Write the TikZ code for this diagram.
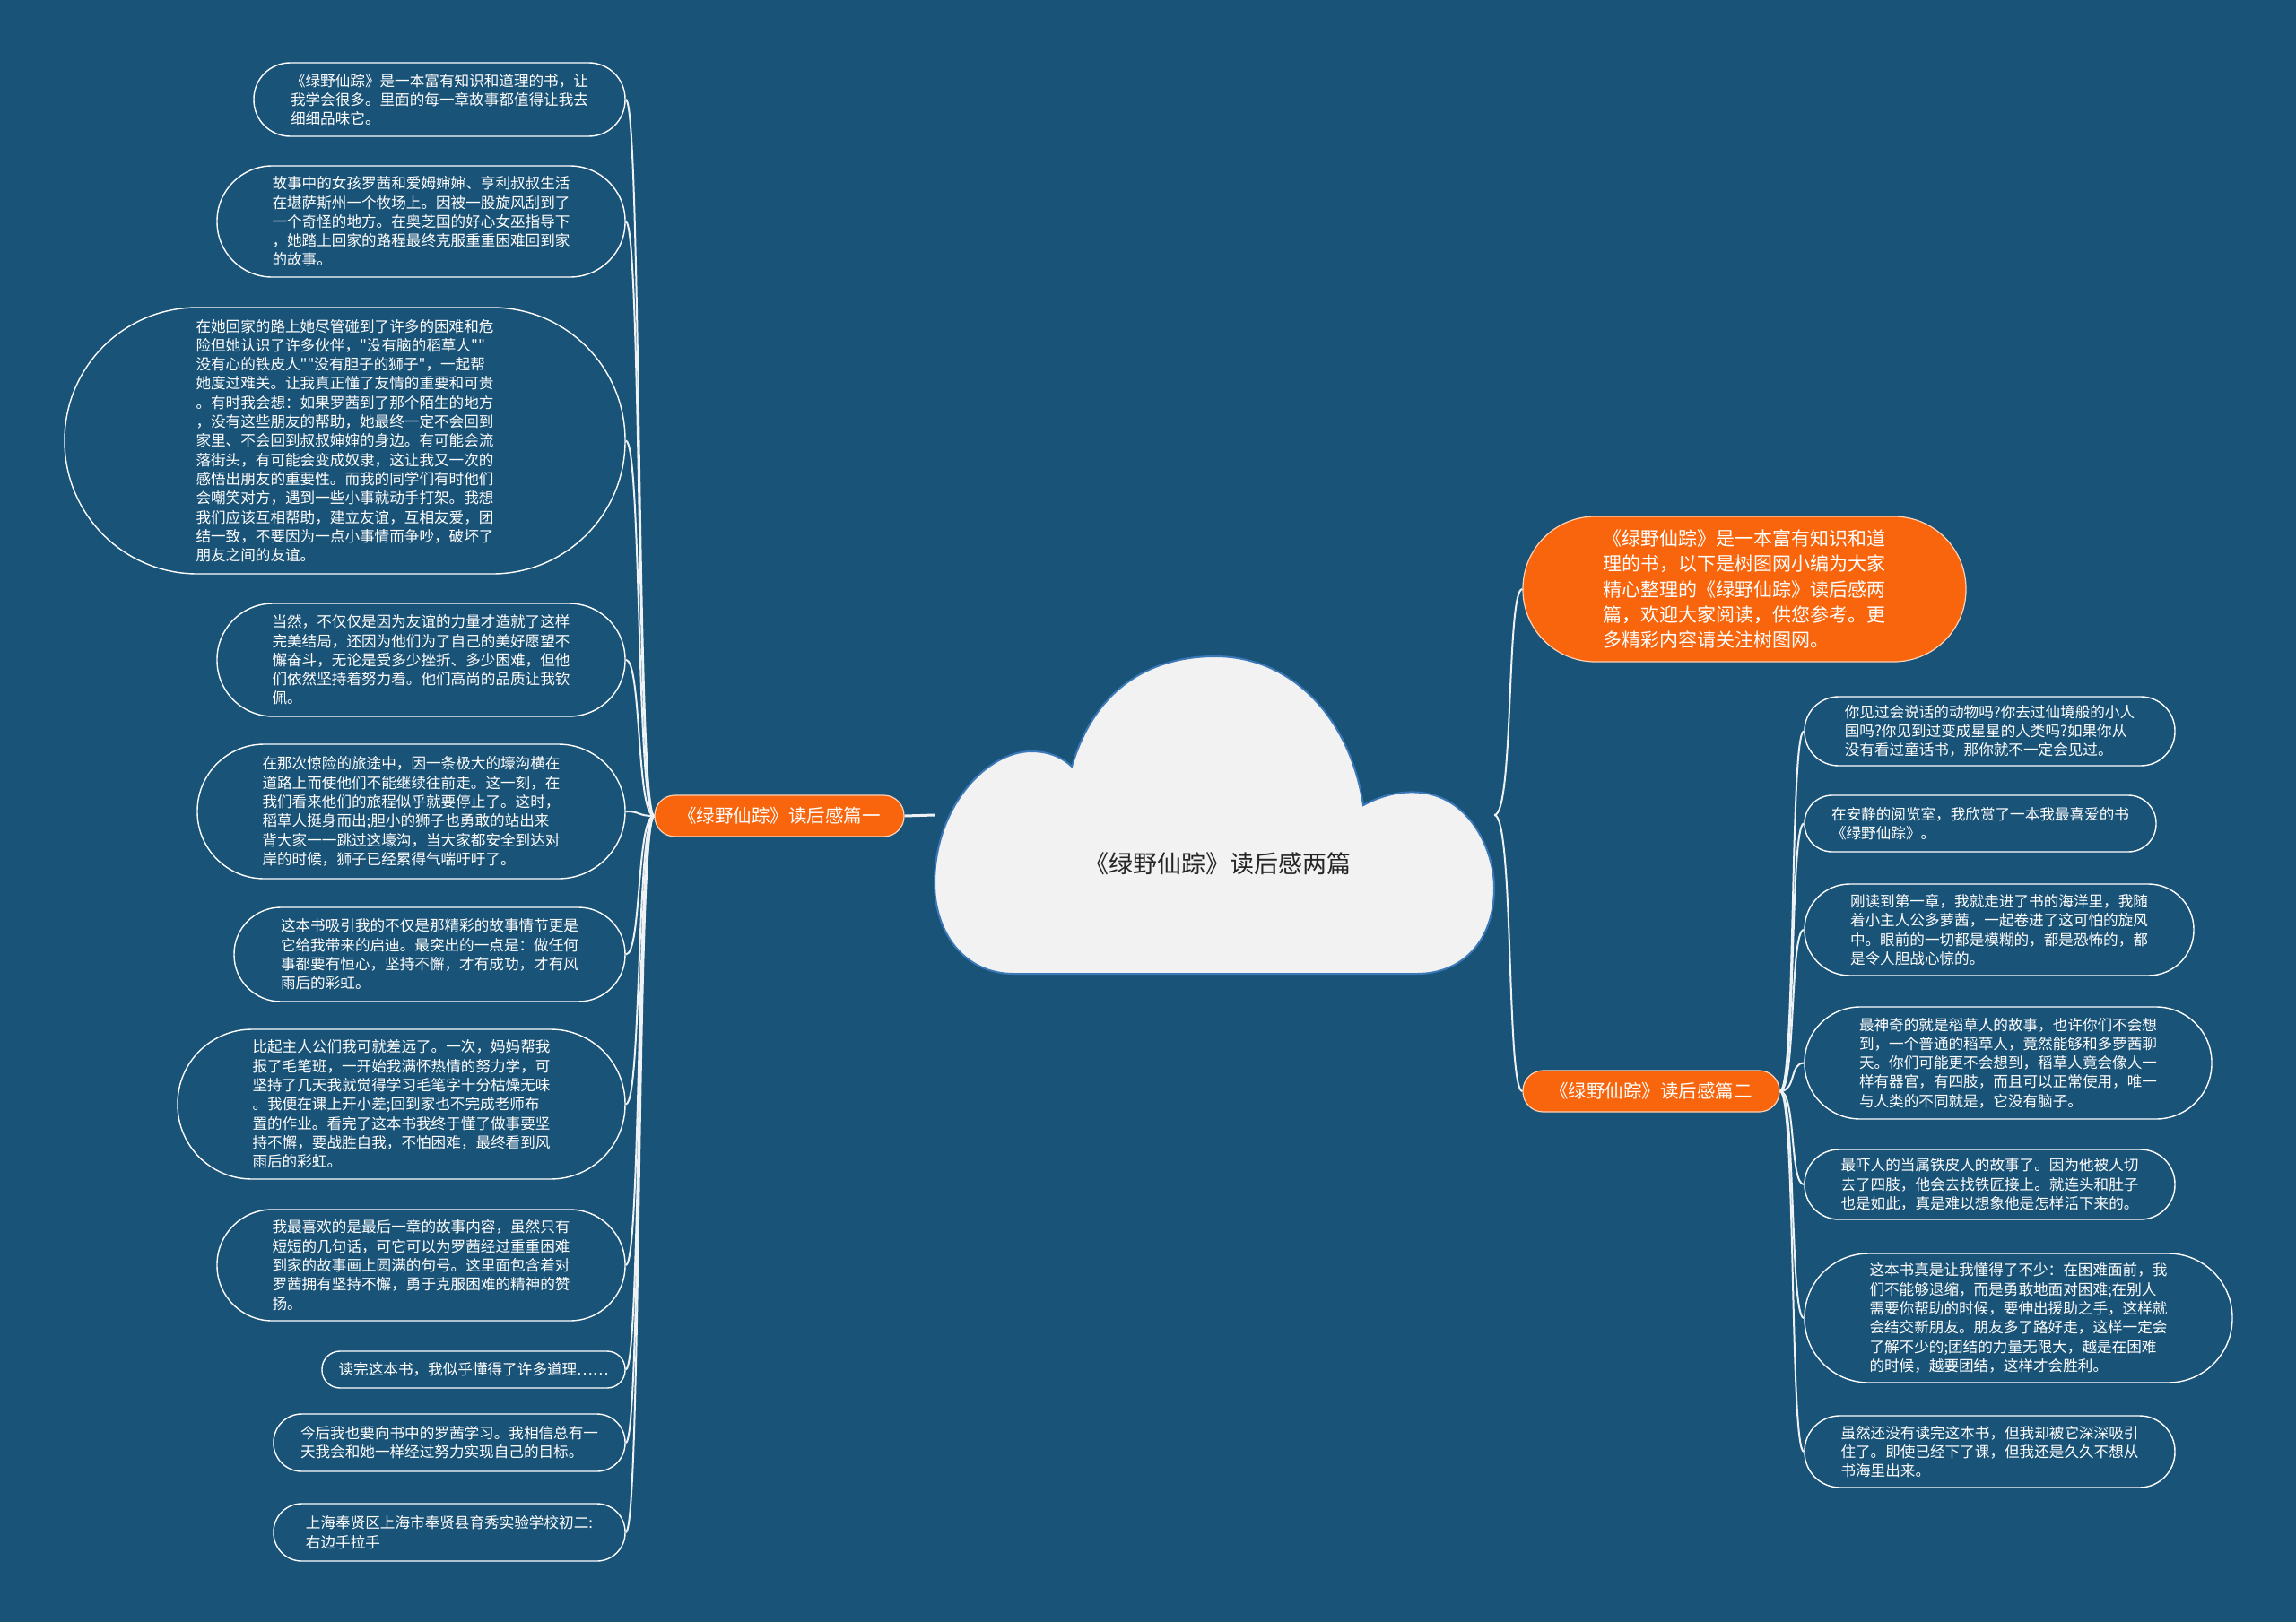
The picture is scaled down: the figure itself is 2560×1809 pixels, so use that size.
\documentclass[tikz,border=0pt]{standalone}
\usepackage{fontspec}
\setmainfont{Noto Sans CJK SC}[Ligatures=TeXOff]
\definecolor{bgblue}{HTML}{1A5378}
\definecolor{orng}{HTML}{F8650C}
\definecolor{cloudfill}{HTML}{F2F2F2}
\definecolor{cloudline}{HTML}{3A78B8}
\definecolor{linecol}{HTML}{EEF2F5}
\tikzset{
  leaf/.style={draw=white, line width=1.4pt, text=white, align=left, inner sep=0pt,
    font=\fontsize{16.6}{21.3}\selectfont},
  orbox/.style={draw=orng!30!white, line width=1.2pt, fill=orng, text=white, align=left, inner sep=0pt},
  conn/.style={draw=linecol, line width=2pt},
  rootbox/.style={inner sep=0pt}
}
\begin{document}
\begin{tikzpicture}[x=1pt,y=-1pt]
\useasboundingbox (0,0) rectangle (2560,1809);
\fill[bgblue] (0,0) rectangle (2560,1809);

% cloud
\draw[fill=cloudfill, draw=cloudline, line width=2pt] (1195,855)
 .. controls (1220,770) and (1280,732) .. (1355,732)
 .. controls (1440,732) and (1505,800) .. (1520,898)
 .. controls (1545,885) and (1565,882) .. (1585,884)
 .. controls (1640,890) and (1666,950) .. (1666,990)
 .. controls (1666,1050) and (1630,1086) .. (1580,1086)
 -- (1130,1086)
 .. controls (1075,1086) and (1042,1040) .. (1042,985)
 .. controls (1042,900) and (1100,838) .. (1150,838)
 .. controls (1170,838) and (1185,845) .. (1195,855) -- cycle;
\node[rootbox, minimum width=624pt, minimum height=354pt] (root) at (1354,909) {};
\node[text=black!85, font=\fontsize{27}{32}\selectfont] (title) at (1358,963) {《绿野仙踪》读后感两篇};

% main branches
\node[orbox, minimum width=278pt, minimum height=46pt, rounded corners=22.5pt, font=\fontsize{20.5}{24}\selectfont] (b1) at (869,910) {《绿野仙踪》读后感篇一};
\node[orbox, minimum width=286pt, minimum height=46pt, rounded corners=22.5pt, font=\fontsize{20.5}{24}\selectfont] (b2) at (1841,1217) {《绿野仙踪》读后感篇二};
\node[orbox, minimum width=494pt, minimum height=162pt, rounded corners=80.5pt, font=\fontsize{21}{28.2}\selectfont] (intro) at (1945,657) {《绿野仙踪》是一本富有知识和道\\理的书，以下是树图网小编为大家\\精心整理的《绿野仙踪》读后感两\\篇，欢迎大家阅读，供您参考。更\\多精彩内容请关注树图网。};

% left leaves
\node[leaf, minimum width=414pt, minimum height=82pt, rounded corners=40.5pt] (l1) at (490,111) {《绿野仙踪》是一本富有知识和道理的书，让\\我学会很多。里面的每一章故事都值得让我去\\细细品味它。};
\node[leaf, minimum width=455pt, minimum height=124pt, rounded corners=61.5pt] (l2) at (469.5,247) {故事中的女孩罗茜和爱姆婶婶、亨利叔叔生活\\在堪萨斯州一个牧场上。因被一股旋风刮到了\\一个奇怪的地方。在奥芝国的好心女巫指导下\\，她踏上回家的路程最终克服重重困难回到家\\的故事。};
\node[leaf, minimum width=625pt, minimum height=297pt, rounded corners=148pt] (l3) at (384.5,491.5) {在她回家的路上她尽管碰到了许多的困难和危\\险但她认识了许多伙伴，"没有脑的稻草人""\\没有心的铁皮人""没有胆子的狮子"，一起帮\\她度过难关。让我真正懂了友情的重要和可贵\\。有时我会想：如果罗茜到了那个陌生的地方\\，没有这些朋友的帮助，她最终一定不会回到\\家里、不会回到叔叔婶婶的身边。有可能会流\\落街头，有可能会变成奴隶，这让我又一次的\\感悟出朋友的重要性。而我的同学们有时他们\\会嘲笑对方，遇到一些小事就动手打架。我想\\我们应该互相帮助，建立友谊，互相友爱，团\\结一致，不要因为一点小事情而争吵，破坏了\\朋友之间的友谊。};
\node[leaf, minimum width=455pt, minimum height=126pt, rounded corners=62.5pt] (l4) at (469.5,736) {当然，不仅仅是因为友谊的力量才造就了这样\\完美结局，还因为他们为了自己的美好愿望不\\懈奋斗，无论是受多少挫折、多少困难，但他\\们依然坚持着努力着。他们高尚的品质让我钦\\佩。};
\node[leaf, minimum width=477pt, minimum height=150pt, rounded corners=74.5pt] (l5) at (458.5,905) {在那次惊险的旅途中，因一条极大的壕沟横在\\道路上而使他们不能继续往前走。这一刻，在\\我们看来他们的旅程似乎就要停止了。这时，\\稻草人挺身而出;胆小的狮子也勇敢的站出来\\背大家一一跳过这壕沟，当大家都安全到达对\\岸的时候，狮子已经累得气喘吁吁了。};
\node[leaf, minimum width=436pt, minimum height=105pt, rounded corners=52pt] (l6) at (479,1064.5) {这本书吸引我的不仅是那精彩的故事情节更是\\它给我带来的启迪。最突出的一点是：做任何\\事都要有恒心，坚持不懈，才有成功，才有风\\雨后的彩虹。};
\node[leaf, minimum width=499pt, minimum height=167pt, rounded corners=83pt] (l7) at (447.5,1231.5) {比起主人公们我可就差远了。一次，妈妈帮我\\报了毛笔班，一开始我满怀热情的努力学，可\\坚持了几天我就觉得学习毛笔字十分枯燥无味\\。我便在课上开小差;回到家也不完成老师布\\置的作业。看完了这本书我终于懂了做事要坚\\持不懈，要战胜自我，不怕困难，最终看到风\\雨后的彩虹。};
\node[leaf, minimum width=455pt, minimum height=124pt, rounded corners=61.5pt] (l8) at (469.5,1411) {我最喜欢的是最后一章的故事内容，虽然只有\\短短的几句话，可它可以为罗茜经过重重困难\\到家的故事画上圆满的句号。这里面包含着对\\罗茜拥有坚持不懈，勇于克服困难的精神的赞\\扬。};
\node[leaf, minimum width=338pt, minimum height=41pt, rounded corners=20pt] (l9) at (528,1527.5) {读完这本书，我似乎懂得了许多道理……};
\node[leaf, minimum width=392pt, minimum height=64pt, rounded corners=31.5pt] (l10) at (501,1609) {今后我也要向书中的罗茜学习。我相信总有一\\天我会和她一样经过努力实现自己的目标。};
\node[leaf, minimum width=392pt, minimum height=64pt, rounded corners=31.5pt] (l11) at (501,1709) {上海奉贤区上海市奉贤县育秀实验学校初二:\\右边手拉手};

% right leaves
\node[leaf, minimum width=413pt, minimum height=77pt, rounded corners=38pt] (r1) at (2218.5,815.5) {你见过会说话的动物吗?你去过仙境般的小人\\国吗?你见到过变成星星的人类吗?如果你从\\没有看过童话书，那你就不一定会见过。};
\node[leaf, minimum width=392pt, minimum height=63pt, rounded corners=31pt] (r2) at (2208,918.5) {在安静的阅览室，我欣赏了一本我最喜爱的书\\《绿野仙踪》。};
\node[leaf, minimum width=434pt, minimum height=102pt, rounded corners=50.5pt] (r3) at (2229,1037) {刚读到第一章，我就走进了书的海洋里，我随\\着小主人公多萝茜，一起卷进了这可怕的旋风\\中。眼前的一切都是模糊的，都是恐怖的，都\\是令人胆战心惊的。};
\node[leaf, minimum width=454pt, minimum height=125pt, rounded corners=62pt] (r4) at (2239,1185.5) {最神奇的就是稻草人的故事，也许你们不会想\\到，一个普通的稻草人，竟然能够和多萝茜聊\\天。你们可能更不会想到，稻草人竟会像人一\\样有器官，有四肢，而且可以正常使用，唯一\\与人类的不同就是，它没有脑子。};
\node[leaf, minimum width=413pt, minimum height=78pt, rounded corners=38.5pt] (r5) at (2218.5,1321) {最吓人的当属铁皮人的故事了。因为他被人切\\去了四肢，他会去找铁匠接上。就连头和肚子\\也是如此，真是难以想象他是怎样活下来的。};
\node[leaf, minimum width=477pt, minimum height=144pt, rounded corners=71.5pt] (r6) at (2250.5,1470) {这本书真是让我懂得了不少：在困难面前，我\\们不能够退缩，而是勇敢地面对困难;在别人\\需要你帮助的时候，要伸出援助之手，这样就\\会结交新朋友。朋友多了路好走，这样一定会\\了解不少的;团结的力量无限大，越是在困难\\的时候，越要团结，这样才会胜利。};
\node[leaf, minimum width=413pt, minimum height=80pt, rounded corners=39.5pt] (r7) at (2218.5,1619) {虽然还没有读完这本书，但我却被它深深吸引\\住了。即使已经下了课，但我还是久久不想从\\书海里出来。};

% connectors
\draw[conn, line width=3pt] (root.west) -- (b1.east);
\draw[conn] (root.east) .. controls +(22,0) and +(-18,0) .. (intro.west);
\draw[conn] (root.east) .. controls +(22,0) and +(-18,0) .. (b2.west);
\foreach \n in {l1,l2,l3,l4,l5,l6,l7,l8,l9,l10,l11}
  \draw[conn] (b1.west) .. controls +(-20,0) and +(18,0) .. (\n.east);
\foreach \n in {r1,r2,r3,r4,r5,r6,r7}
  \draw[conn] (b2.east) .. controls +(18,0) and +(-16,0) .. (\n.west);
\end{tikzpicture}
\end{document}
